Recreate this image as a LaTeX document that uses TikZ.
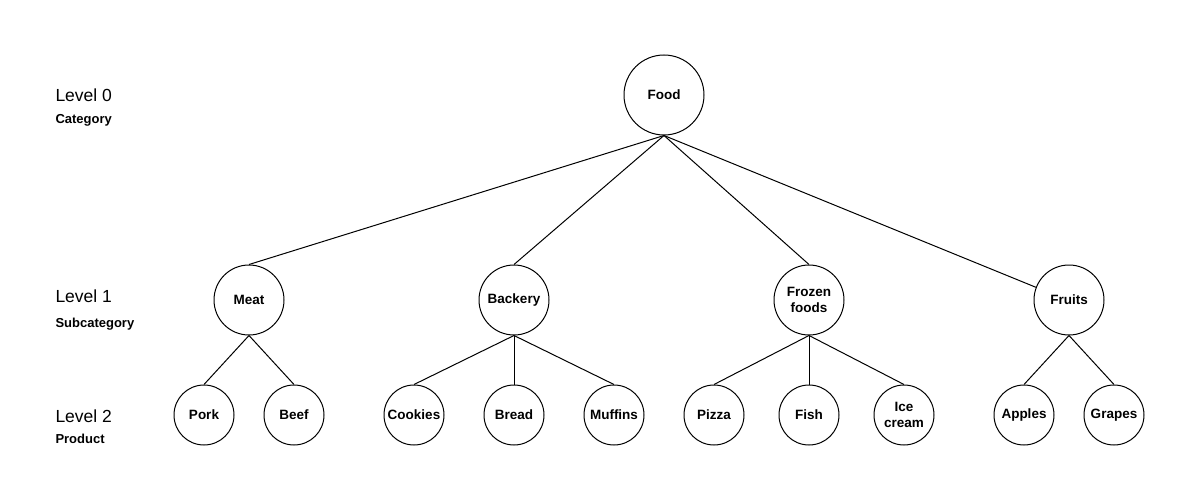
\documentclass[tikz,border=0pt]{standalone}
\usepackage{fontspec}
\setmainfont{Liberation Sans}
\begin{document}
\begin{tikzpicture}[
    x=1pt, y=-1pt, line width=1pt,
    every node/.style={circle, draw, inner sep=0pt, align=center,
                       font=\bfseries\fontsize{13.5}{16}\selectfont},
    topnode/.style={minimum size=80pt},
    subnode/.style={minimum size=70pt},
    leafnode/.style={minimum size=60pt},
    levellabel/.style={draw=none, rectangle, anchor=base west,
                       font=\fontsize{17.5}{20}\selectfont},
    levelnote/.style={draw=none, rectangle, anchor=base west,
                      font=\bfseries\fontsize{13}{15}\selectfont},
]
  \useasboundingbox (0,0) rectangle (1200,500);
  % level labels
  \node [levellabel] (l0)  at (55,102) {Level 0};
  \node [levelnote]  (l0n) at (55,124) {Category};
  \node [levellabel] (l1)  at (55,302) {Level 1};
  \node [levelnote]  (l1n) at (55,327) {Subcategory};
  \node [levellabel] (l2)  at (55,422) {Level 2};
  \node [levelnote]  (l2n) at (55,443) {Product};
  % tree
  \node [topnode]  (food)     at (664,95)   {Food};
  \node [subnode]  (meat)     at (249,300)  {Meat};
  \node [subnode]  (backery)  at (514,300)  {Backery};
  \node [subnode]  (frozen)   at (809,300)  {Frozen\\foods};
  \node [subnode]  (fruits)   at (1069,300) {Fruits};
  \node [leafnode] (pork)     at (204,415)  {Pork};
  \node [leafnode] (beef)     at (294,415)  {Beef};
  \node [leafnode] (cookies)  at (414,415)  {Cookies};
  \node [leafnode] (bread)    at (514,415)  {Bread};
  \node [leafnode] (muffins)  at (614,415)  {Muffins};
  \node [leafnode] (pizza)    at (714,415)  {Pizza};
  \node [leafnode] (fish)     at (809,415)  {Fish};
  \node [leafnode] (icecream) at (904,415)  {Ice\\cream};
  \node [leafnode] (apples)   at (1024,415) {Apples};
  \node [leafnode] (grapes)   at (1114,415) {Grapes};
  % connectors
  \draw (food.south) -- (meat.north);
  \draw (food.south) -- (backery.north);
  \draw (food.south) -- (frozen.north);
  \draw (food.south) -- (fruits.159);
  \foreach \p/\c in {meat/pork, meat/beef,
                     backery/cookies, backery/bread, backery/muffins,
                     frozen/pizza, frozen/fish, frozen/icecream,
                     fruits/apples, fruits/grapes}
    \draw (\p.south) -- (\c.north);
\end{tikzpicture}
\end{document}
